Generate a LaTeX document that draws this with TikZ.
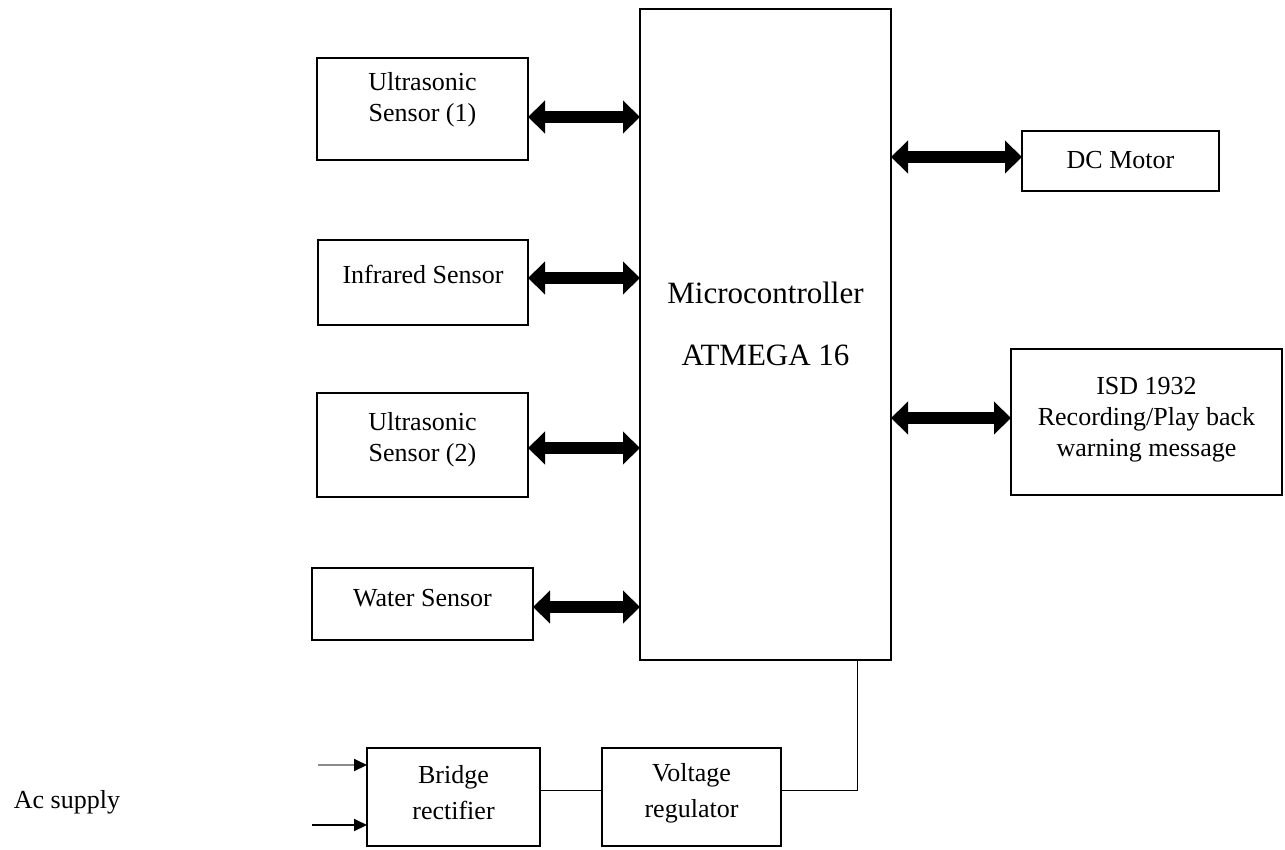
\documentclass[tikz,border=0pt]{standalone}
\usepackage{fontspec}
\setmainfont{Liberation Serif}
\usetikzlibrary{arrows.meta,calc}
\begin{document}
\begin{tikzpicture}[x=1pt,y=-1pt,
  box/.style={draw,line width=2pt,inner sep=0pt,outer sep=0pt},
  txt/.style={font=\fontsize{26}{31}\selectfont,align=center,inner sep=0pt},
  bigtxt/.style={font=\fontsize{31}{62}\selectfont,align=center,inner sep=0pt},
  bus/.style={line width=12pt,{Triangle[width=32pt,length=17pt]}-{Triangle[width=32pt,length=17pt]}},
  wire/.style={line width=1pt},
  feed/.style={line width=2pt,-{Triangle[width=12pt,length=13pt,color=black]}}]
\useasboundingbox (0,0) rectangle (1285,849);
% boxes
\node[box,minimum width=251pt,minimum height=651pt] (mc) at (765.5,334.5) {};
\node[box,minimum width=211pt,minimum height=102pt] (us1) at (422.5,109) {};
\node[box,minimum width=210pt,minimum height=85pt] (ir) at (423,282.5) {};
\node[box,minimum width=211pt,minimum height=104pt] (us2) at (422.5,445) {};
\node[box,minimum width=221pt,minimum height=72pt] (ws) at (422.5,604) {};
\node[box,minimum width=197pt,minimum height=60pt] (dc) at (1120.5,161) {};
\node[box,minimum width=271pt,minimum height=146pt] (isd) at (1146.5,422) {};
\node[box,minimum width=173pt,minimum height=98pt] (br) at (453.5,797) {};
\node[box,minimum width=179pt,minimum height=98pt] (vr) at (691.5,797) {};
% texts
\node[bigtxt] (mct) at (765.5,324) {Microcontroller\\ATMEGA 16};
\node[txt] (us1t) at (422.5,100) {Ultrasonic\\Sensor (1)};
\node[txt] (irt) at (423,274) {Infrared Sensor};
\node[txt] (us2t) at (422.5,440) {Ultrasonic\\Sensor (2)};
\node[txt] (wst) at (422.5,598) {Water Sensor};
\node[txt] (dct) at (1120.5,160) {DC Motor};
\node[txt] (isdt) at (1146.5,420) {ISD 1932\\Recording/Play back\\warning message};
\node[txt,font=\fontsize{26}{36}\selectfont] (brt) at (453.5,793) {Bridge\\rectifier};
\node[txt,font=\fontsize{26}{36}\selectfont] (vrt) at (691.5,793) {Voltage\\regulator};
\node[txt] (ac) at (67,802) {Ac supply};
% bus end points
\coordinate (p1) at ([yshift=-8pt]us1.east);
\coordinate (p2) at ([yshift=4.5pt]ir.east);
\coordinate (p3) at ([yshift=-3pt]us2.east);
\coordinate (p4) at ([yshift=-3pt]ws.east);
\coordinate (p5) at ([yshift=4pt]dc.west);
\coordinate (p6) at ([yshift=4pt]isd.west);
% buses
\draw[bus] (p1) -- (mc.west |- p1);
\draw[bus] (p2) -- (mc.west |- p2);
\draw[bus] (p3) -- (mc.west |- p3);
\draw[bus] (p4) -- (mc.west |- p4);
\draw[bus] (mc.east |- p5) -- (p5);
\draw[bus] (mc.east |- p6) -- (p6);
% power chain
\coordinate (q1) at ([yshift=7pt]br.east);
\coordinate (q2) at ([yshift=7pt]vr.east);
\coordinate (q3) at ([xshift=91.5pt]mc.south);
\draw[wire] (q1) -- (vr.west |- q1);
\draw[wire] (q2) -| (q3);
\coordinate (ac1) at (318,765);
\coordinate (ac2) at (312,825);
\draw[feed,draw=black!45] (ac1) -- (br.west |- ac1);
\draw[feed] (ac2) -- (br.west |- ac2);
\end{tikzpicture}
\end{document}
